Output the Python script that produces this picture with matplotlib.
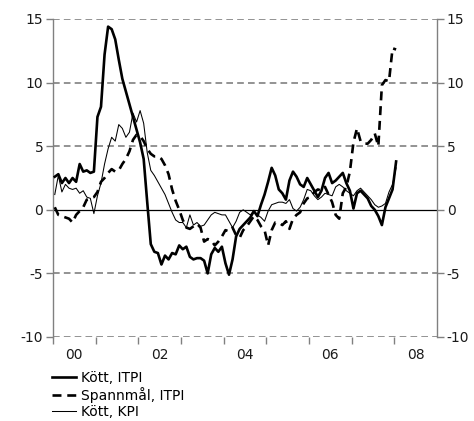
import numpy as np
import matplotlib
matplotlib.use('Agg')
import matplotlib.pyplot as plt
from matplotlib.ticker import FixedLocator, NullFormatter

# Monthly series from Jan 2000, per cent
kott_itpi = [2.6, 2.8, 2.1, 2.5, 2.1, 2.5, 2.2, 3.6, 3.0, 3.1, 2.9, 3.0,
             7.3, 8.1, 12.2, 14.4, 14.2, 13.4, 11.8, 10.3, 9.3, 8.3, 7.3, 6.3,
             5.3, 4.0, 0.6, -2.7, -3.3, -3.4, -4.3, -3.6, -3.9, -3.4, -3.5, -2.8,
             -3.1, -2.9, -3.7, -3.9, -3.8, -3.8, -4.0, -5.0, -3.5, -3.0, -3.3, -2.9,
             -4.2, -5.1, -3.9, -2.1, -1.5, -1.2, -0.9, -0.6, -0.1, -0.5, 0.4, 1.2,
             2.2, 3.3, 2.7, 1.6, 1.3, 0.8, 2.3, 3.0, 2.6, 2.0, 1.8, 2.5,
             2.0, 1.5, 1.0, 1.5, 2.5, 2.9, 2.1, 2.3, 2.6, 2.9, 2.1, 1.5,
             0.1, 1.3, 1.5, 1.2, 0.9, 0.3, 0.0, -0.5, -1.2, 0.2, 0.9, 1.6,
             3.8]
spannmal_itpi = [0.2, -0.4, -0.5, -0.6, -0.7, -1.0, -0.4, -0.1, 0.2, 0.8, 0.9, 1.0,
                 1.4, 2.2, 2.5, 2.9, 3.2, 3.0, 3.1, 3.6, 4.0, 4.6, 5.5, 5.9,
                 5.8, 5.4, 4.8, 4.4, 4.2, 4.2, 4.0, 3.5, 2.8, 1.6, 0.7, 0.0,
                 -0.8, -1.4, -1.5, -1.3, -1.1, -1.4, -2.5, -2.3, -2.4, -2.8, -2.5, -2.1,
                 -1.6, -1.7, -1.4, -2.0, -2.2, -1.6, -1.3, -0.9, -0.5, -0.8, -1.3, -1.6,
                 -2.8, -1.6, -1.0, -1.0, -1.2, -0.9, -1.5, -0.7, -0.4, -0.2, 0.5, 0.9,
                 1.0, 1.4, 1.6, 1.5, 1.8, 1.2, 0.6, -0.4, -0.7, 1.3, 1.8, 3.0,
                 5.3, 6.4, 5.4, 5.2, 5.2, 5.5, 6.0, 5.0, 9.8, 10.2, 10.1, 12.7,
                 12.6]
kott_kpi = [1.2, 2.7, 1.4, 2.0, 1.7, 1.6, 1.7, 1.3, 1.5, 1.0, 0.9, -0.3,
            1.1, 2.1, 3.6, 4.8, 5.7, 5.4, 6.7, 6.4, 5.7, 6.1, 7.6, 6.9,
            7.8, 6.8, 4.5, 3.1, 2.7, 2.2, 1.7, 1.2, 0.5, -0.2, -0.8, -1.0,
            -1.0, -1.4, -0.4, -1.2, -1.0, -1.3, -1.2, -0.8, -0.4, -0.2, -0.3, -0.4,
            -0.4, -0.9, -1.4, -0.9, -0.2, 0.0, -0.2, -0.4, -0.1, -0.4, -0.6, -0.9,
            -0.1, 0.4, 0.5, 0.6, 0.6, 0.5, 0.8, 0.1, -0.1, 0.2, 0.8, 1.6,
            1.5, 1.1, 0.8, 1.0, 1.3, 1.2, 1.1, 1.8, 2.0, 1.8, 1.5, 1.3,
            1.1, 1.5, 1.7, 1.4, 1.1, 0.8, 0.4, 0.2, 0.3, 0.5, 1.4, 2.0,
            3.3]

year_labels = ['00', '02', '04', '06', '08']
label_years = [2000, 2002, 2004, 2006, 2008]
yticks = [-10, -5, 0, 5, 10, 15]

grey = '#808080'
plt.rcParams['font.family'] = 'DejaVu Sans'
plt.rcParams['font.size'] = 10

fig = plt.figure(figsize=(4.74, 4.21), dpi=100)
ax = fig.add_axes([53 / 474, 84 / 421, 384 / 474, 318 / 421])

# months plotted at mid-month
t = np.arange(len(kott_itpi)) + 0.5
ax.plot(t, kott_itpi, color='black', lw=1.9, label='Kött, ITPI', zorder=3)
ax.plot(np.arange(len(spannmal_itpi)) + 0.5, spannmal_itpi, color='black', lw=1.9,
        ls=(0, (3.4, 2.2)), label='Spannmål, ITPI', zorder=3)
ax.plot(np.arange(len(kott_kpi)) + 0.5, kott_kpi, color='black', lw=0.75,
        label='Kött, KPI', zorder=3)

ax.set_xlim(0, 108)
ax.set_ylim(-10, 15)

for v in [-10, -5, 5, 10, 15]:
    ax.axhline(v, color=grey, lw=1.2, ls=(0, (4, 2.5)), zorder=1)
ax.axhline(0, color='black', lw=0.9, zorder=2)

for s in ['top', 'bottom']:
    ax.spines[s].set_visible(False)
for s in ['left', 'right']:
    ax.spines[s].set_color(grey)
    ax.spines[s].set_linewidth(1.0)

ax.set_yticks(yticks)
ax.set_yticklabels([str(v) for v in yticks])
ax.tick_params(axis='y', which='both', left=True, right=True, labelleft=True,
               labelright=True, color=grey, length=5, width=1, pad=2,
               labelcolor='#1a1a1a')

# year boundary ticks, labels centred on even years
ax.xaxis.set_major_locator(FixedLocator([(y - 2000) * 12 + 6 for y in label_years]))
ax.set_xticklabels(year_labels)
ax.xaxis.set_minor_locator(FixedLocator([i * 12 for i in range(0, 9)]))
ax.xaxis.set_minor_formatter(NullFormatter())
ax.tick_params(axis='x', which='major', length=0, pad=8, labelcolor='#1a1a1a')
ax.tick_params(axis='x', which='minor', length=5, width=1, color=grey, direction='out')

fig.legend(loc='upper left', bbox_to_anchor=(52 / 474, 1 - 371 / 421), frameon=False,
           handlelength=1.75, handletextpad=0.35, labelspacing=0.15,
           borderaxespad=0, borderpad=0, fontsize=10)

fig.savefig('out.png', dpi=100)
